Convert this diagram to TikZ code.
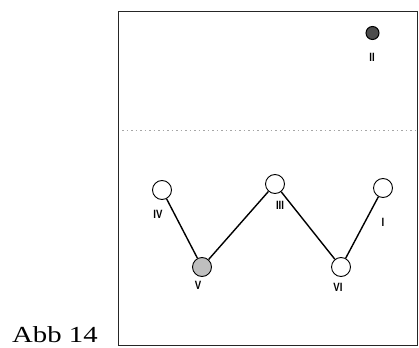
\documentclass[tikz,border=0pt]{standalone}
\usepackage{fontspec}
\setmainfont{Liberation Serif}
\setsansfont{Liberation Sans}
\newcommand{\numtext}[1]{\scalebox{0.8}[1]{#1}}
\begin{document}
\begin{tikzpicture}[x=1pt,y=-1pt,
  ball/.style={circle,draw=black,line width=0.9pt,minimum size=19pt,inner sep=0pt},
  smallball/.style={circle,draw=black,line width=1pt,minimum size=13pt,inner sep=0pt,fill=black!70},
  numeral/.style={font=\sffamily\bfseries\fontsize{12}{12}\selectfont,inner sep=0pt},
  link/.style={line width=1.4pt,black}]
\useasboundingbox (0,0) rectangle (419,347);
% frame and dividing line
\draw[line width=0.9pt,black!85] (118,11) rectangle (417,345);
\draw[black!35,dash pattern=on 1.5pt off 3pt,line width=0.5pt] (122,130) -- (415,130);
% balls
\node[smallball] (b2) at (372.5,33) {};
\node[ball] (b4) at (162,190) {};
\node[ball,fill=black!25] (b5) at (202,267) {};
\node[ball] (b3) at (275,184) {};
\node[ball] (b6) at (341,267) {};
\node[ball] (b1) at (383,188) {};
% connections
\draw[link] (b4) -- (b5);
\draw[link] (b5) -- (b3);
\draw[link] (b3) -- (b6);
\draw[link] (b6) -- (b1);
% numerals
\node[numeral] (t2) at (372,57) {\numtext{II}};
\node[numeral] (t4) at (158,214) {\numtext{IV}};
\node[numeral] (t3) at (280,205) {\numtext{III}};
\node[numeral] (t1) at (383,222) {\numtext{I}};
\node[numeral] (t5) at (198,285) {\numtext{V}};
\node[numeral] (t6) at (338,287) {\numtext{VI}};
% caption
\node[anchor=base west,inner sep=0pt] (cap) at (12,342)
  {\scalebox{1.25}[1]{\fontsize{23}{23}\selectfont Abb 14}};
\end{tikzpicture}
\end{document}
